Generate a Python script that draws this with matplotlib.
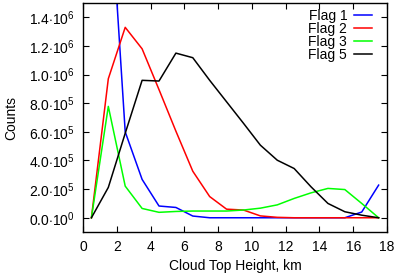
import numpy as np
import matplotlib
matplotlib.use("Agg")
import matplotlib.pyplot as plt
from matplotlib.ticker import FuncFormatter

plt.rcParams["font.family"] = ["Liberation Sans", "DejaVu Sans"]
plt.rcParams["mathtext.fontset"] = "custom"
plt.rcParams["mathtext.rm"] = "Liberation Sans"
plt.rcParams["mathtext.it"] = "Liberation Sans"

height = [0.5, 1.5, 2.5, 3.5, 4.5, 5.5, 6.5, 7.5, 8.5, 9.5,
          10.5, 11.5, 12.5, 13.5, 14.5, 15.5, 16.5, 17.5]

flag1 = [2.0e6, 2.45e6, 6.0e5, 2.68e5, 0.82e5, 0.72e5, 0.12e5, 0, 0, 0,
         0, 0, 0, 0, 0, 0, 0.4e5, 2.28e5]
flag2 = [0, 9.71e5, 1.33e6, 1.18e6, 8.95e5, 6.05e5, 3.25e5, 1.48e5, 0.6e5, 0.54e5,
         0.13e5, 0.03e5, 0, 0, 0, 0, 0, 0]
flag3 = [0, 7.78e5, 2.21e5, 0.65e5, 0.38e5, 0.44e5, 0.47e5, 0.47e5, 0.47e5, 0.54e5,
         0.67e5, 0.9e5, 1.35e5, 1.74e5, 2.05e5, 1.97e5, 1.0e5, 0]
flag5 = [0, 2.12e5, 5.9e5, 9.6e5, 9.55e5, 1.15e6, 1.118e6, 9.6e5, 8.1e5, 6.6e5,
         5.07e5, 4.02e5, 3.44e5, 2.16e5, 1.0e5, 0.42e5, 0.18e5, 0]


def sci_label(v, pos):
    if v == 0:
        return r"$0.0{\cdot}10^{0}$"
    e = int(np.floor(np.log10(abs(v))))
    m = v / 10 ** e
    return r"$%.1f{\cdot}10^{%d}$" % (m, e)


fig = plt.figure(figsize=(3.97, 2.74), dpi=100)
ax = fig.add_axes([0.209, 0.153, 0.766, 0.836])

ax.plot(height, flag1, color="#0000ff", lw=1.1, label="Flag 1")
ax.plot(height, flag2, color="#ff0000", lw=1.1, label="Flag 2")
ax.plot(height, flag3, color="#00ff00", lw=1.1, label="Flag 3")
ax.plot(height, flag5, color="#000000", lw=1.1, label="Flag 5")

ax.set_xlim(0, 18)
ax.set_ylim(-1e5, 1.5e6)
ax.set_xticks(np.arange(0, 19, 2))
ax.set_yticks(np.arange(0, 1.5e6, 2e5))
ax.yaxis.set_major_formatter(FuncFormatter(sci_label))
ax.tick_params(direction="in", top=True, right=True, length=4, labelsize=10)
ax.tick_params(axis="x", pad=6)
ax.tick_params(axis="y", pad=6)
for s in ax.spines.values():
    s.set_linewidth(1.0)

ax.set_xlabel("Cloud Top Height, km", fontsize=10, labelpad=3)
ax.set_ylabel("Counts", fontsize=10, labelpad=8)

ax.legend(loc="upper right", bbox_to_anchor=(0.951, 0.975), frameon=False,
          markerfirst=False, fontsize=10, handlelength=1.3, labelspacing=-0.07,
          borderaxespad=0, borderpad=0, handletextpad=0.5)

fig.savefig("out.png", dpi=100)
